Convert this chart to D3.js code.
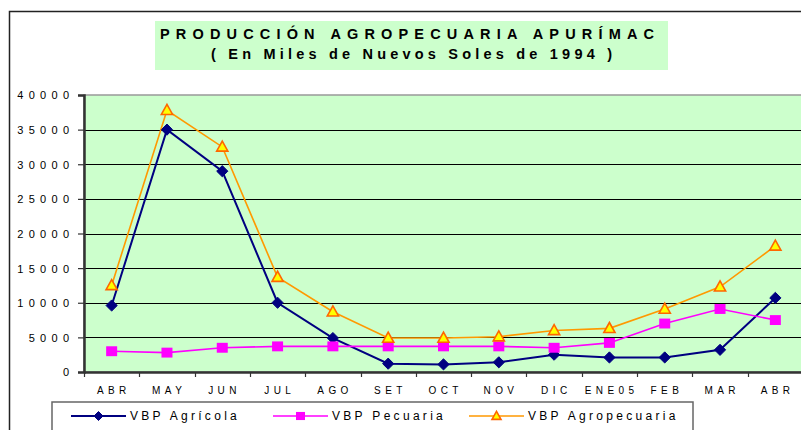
<!DOCTYPE html>
<html>
<head>
<meta charset="utf-8">
<script src="https://cdn.jsdelivr.net/npm/d3@7/dist/d3.min.js"></script>
<style>
    body { margin: 0; background: #fff; }
    svg { display: block; font-family: Arial, "Liberation Sans", sans-serif; }
</style>
</head>
<body>
<div class="chart"></div>
<script>
(function (window, document, undefined) {

    var meses = ["ABR", "MAY", "JUN", "JUL", "AGO", "SET", "OCT", "NOV", "DIC", "ENE05", "FEB", "MAR", "ABR"];
    var agricola = [9600, 35000, 29000, 10000, 4900, 1200, 1100, 1400, 2500, 2100, 2100, 3200, 10700];
    var pecuaria = [3000, 2800, 3500, 3700, 3700, 3700, 3700, 3700, 3500, 4200, 7000, 9100, 7500];
    var agropecuaria = [12500, 37800, 32500, 13700, 8700, 4900, 4900, 5100, 6000, 6300, 9100, 12300, 18200];
    var yTicks = [0, 5000, 10000, 15000, 20000, 25000, 30000, 35000, 40000];

    var series = [
        { name: "VBP Agrícola", values: agricola, color: "#000080", marker: "diamond" },
        { name: "VBP Pecuaria", values: pecuaria, color: "#FF00FF", marker: "square" },
        { name: "VBP Agropecuaria", values: agropecuaria, color: "#FF9900", marker: "triangle" }
    ];

    var W = 801, H = 430;
    var plot = { left: 84, top: 95, right: 803, bottom: 372 };

    var svg = d3.select(".chart").append("svg")
        .attr("width", W)
        .attr("height", H);

    // outer chart frame
    svg.append("rect")
        .attr("x", 9.5).attr("y", 11.5)
        .attr("width", 820).attr("height", 440)
        .attr("fill", "#fff")
        .attr("stroke", "#222")
        .attr("stroke-width", 1.5);

    // title
    svg.append("rect")
        .attr("x", 155).attr("y", 21)
        .attr("width", 513).attr("height", 49)
        .attr("fill", "#CCFFCC");

    svg.append("text")
        .attr("x", 160).attr("y", 39)
        .attr("textLength", 494)
        .attr("lengthAdjust", "spacing")
        .style("font-size", "14.5px")
        .style("font-weight", "bold")
        .attr("fill", "#000")
        .text("PRODUCCIÓN  AGROPECUARIA  APURÍMAC");

    svg.append("text")
        .attr("x", 211).attr("y", 59)
        .attr("textLength", 401)
        .attr("lengthAdjust", "spacing")
        .style("font-size", "14.5px")
        .style("font-weight", "bold")
        .attr("fill", "#000")
        .text("( En Miles de Nuevos Soles de 1994 )");

    var x = d3.scaleBand()
        .domain(d3.range(meses.length))
        .range([plot.left, plot.right]);

    var y = d3.scaleLinear()
        .domain([0, 40000])
        .range([plot.bottom, plot.top]);

    var cx = function (i) { return x(i) + x.bandwidth() / 2; };

    // plot area
    svg.append("rect")
        .attr("x", plot.left).attr("y", plot.top)
        .attr("width", plot.right - plot.left)
        .attr("height", plot.bottom - plot.top)
        .attr("fill", "#CCFFCC")
        .attr("stroke", "#999")
        .attr("stroke-width", 1.5);

    // gridlines
    svg.append("g")
        .selectAll("line")
        .data(yTicks.slice(1, -1))
        .enter().append("line")
        .attr("x1", plot.left).attr("x2", plot.right)
        .attr("y1", function (d) { return Math.round(y(d)) + 0.5; })
        .attr("y2", function (d) { return Math.round(y(d)) + 0.5; })
        .attr("stroke", "#000")
        .attr("stroke-width", 1);

    // y axis
    var yAxis = svg.append("g")
        .attr("transform", "translate(" + plot.left + ",0)")
        .call(d3.axisLeft(y).tickValues(yTicks).tickSize(6).tickFormat(d3.format("d")));
    yAxis.select(".domain").attr("stroke", "#333").attr("stroke-width", 2.5);
    yAxis.selectAll(".tick line").attr("stroke", "#333").attr("stroke-width", 1.2);
    yAxis.selectAll(".tick text")
        .attr("x", -15 + 5.3)
        .attr("dy", "0.36em")
        .style("font-size", "11px")
        .style("letter-spacing", "5.3px")
        .attr("fill", "#000");

    // x axis with ticks between categories
    var xAxis = svg.append("g")
        .attr("transform", "translate(0," + plot.bottom + ")")
        .call(d3.axisBottom(x).tickSize(0).tickFormat(function (i) { return meses[i]; }));
    xAxis.select(".domain").attr("stroke", "#333").attr("stroke-width", 2.5);
    xAxis.selectAll(".tick text")
        .attr("x", 2.2)
        .attr("y", 15)
        .attr("dy", "0.71em")
        .style("font-size", "10px")
        .style("letter-spacing", "4.4px")
        .attr("fill", "#000");
    xAxis.selectAll(".sep")
        .data(d3.range(meses.length + 1))
        .enter().append("line")
        .attr("class", "sep")
        .attr("x1", function (i) { return Math.round(plot.left + i * x.step()) + 0.5; })
        .attr("x2", function (i) { return Math.round(plot.left + i * x.step()) + 0.5; })
        .attr("y1", 0).attr("y2", 5)
        .attr("stroke", "#333")
        .attr("stroke-width", 1.2);

    var symbols = {
        diamond: function (g, s, color) {
            g.append("path")
                .attr("d", "M0," + (-s) + "L" + s + ",0L0," + s + "L" + (-s) + ",0Z")
                .attr("fill", color).attr("stroke", color).attr("stroke-width", 1);
        },
        square: function (g, s, color) {
            g.append("rect")
                .attr("x", -s).attr("y", -s * 0.9)
                .attr("width", 2 * s).attr("height", 1.8 * s)
                .attr("fill", color);
        },
        triangle: function (g, s, color) {
            g.append("path")
                .attr("d", "M0," + (-s * 1.05) + "L" + s + "," + (s * 0.75) + "L" + (-s) + "," + (s * 0.75) + "Z")
                .attr("fill", "#FFFF00").attr("stroke", "#FF6600").attr("stroke-width", 1.6);
        }
    };

    var line = d3.line()
        .x(function (d, i) { return cx(i); })
        .y(function (d) { return y(d); });

    series.forEach(function (s) {
        svg.append("path")
            .datum(s.values)
            .attr("fill", "none")
            .attr("stroke", s.color)
            .attr("stroke-width", s.marker == "diamond" ? 2 : 1.6)
            .attr("d", line);
    });

    series.forEach(function (s) {
        svg.append("g")
            .selectAll("g")
            .data(s.values)
            .enter().append("g")
            .attr("transform", function (d, i) { return "translate(" + cx(i) + "," + y(d) + ")"; })
            .each(function () { symbols[s.marker](d3.select(this), s.marker == "square" ? 5.5 : 5.6, s.color); });
    });

    // legend
    var legend = svg.append("g");
    legend.append("rect")
        .attr("x", 52).attr("y", 402)
        .attr("width", 641).attr("height", 60)
        .attr("fill", "#fff")
        .attr("stroke", "#666")
        .attr("stroke-width", 1.5);

    var legendX = [71, 273, 469];
    series.forEach(function (s, k) {
        var g = legend.append("g").attr("transform", "translate(" + legendX[k] + ",416)");
        g.append("line")
            .attr("x1", 0).attr("x2", 55)
            .attr("stroke", s.color)
            .attr("stroke-width", s.marker == "diamond" ? 2 : 1.6);
        var m = g.append("g").attr("transform", "translate(27.5,0)");
        symbols[s.marker](m, 4.5, s.color);
        g.append("text")
            .attr("x", 59)
            .attr("dy", "0.36em")
            .style("font-size", "12px")
            .style("letter-spacing", "3.3px")
            .attr("fill", "#000")
            .text(s.name);
    });

})(window, document);
</script>
</body>
</html>
